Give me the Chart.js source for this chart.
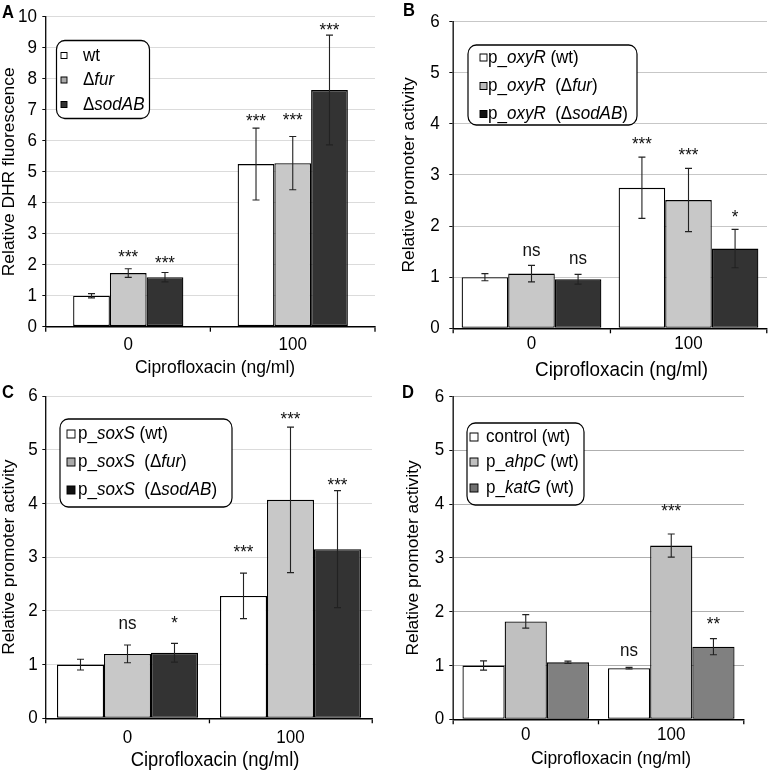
<!DOCTYPE html>
<html><head><meta charset="utf-8">
<script src="https://cdn.jsdelivr.net/npm/chart.js@4/dist/chart.umd.min.js"></script>
<style>
html,body{margin:0;padding:0;background:#fff;}
#wrap{position:relative;width:779px;height:770px;overflow:hidden;background:#fff;}
#wrap canvas{position:absolute;}
</style></head><body><div id="wrap"></div>
<script>
// ---------- shared ----------
const categories = ['0', '100'];
const xTitle = 'Ciprofloxacin (ng/ml)';

// ---------- Panel A ----------
const aYTitle = 'Relative DHR fluorescence';
const aNames = ['wt', 'Δfur', 'ΔsodAB'];
const aLegend = [[['wt', 0]], [['Δ', 0], ['fur', 1]], [['Δ', 0], ['sodAB', 1]]];
const aWt = [1.00, 5.25];
const aFur = [1.73, 5.28];
const aSod = [1.60, 7.64];
const aWtErr = [0.07, 1.16];
const aFurErr = [0.14, 0.86];
const aSodErr = [0.15, 1.77];
const aWtSig = ['', '***'];
const aFurSig = ['***', '***'];
const aSodSig = ['***', '***'];
const aWtSigAt = [null, 6.80];
const aFurSigAt = [2.40, 6.83];
const aSodSigAt = [2.21, 9.74];

// ---------- Panel B ----------
const bYTitle = 'Relative promoter activity';
const bNames = ['p_oxyR (wt)', 'p_oxyR (Δfur)', 'p_oxyR (ΔsodAB)'];
const bLegend = [
  [['p_', 0], ['oxyR', 1], [' (wt)', 0]],
  [['p_', 0], ['oxyR', 1], ['  (Δ', 0], ['fur', 1], [')', 0]],
  [['p_', 0], ['oxyR', 1], ['  (Δ', 0], ['sodAB', 1], [')', 0]]
];
const bWt = [1.00, 2.75];
const bFur = [1.07, 2.51];
const bSod = [0.96, 1.56];
const bWtErr = [0.07, 0.60];
const bFurErr = [0.16, 0.62];
const bSodErr = [0.095, 0.375];
const bWtSig = ['', '***'];
const bFurSig = ['ns', '***'];
const bSodSig = ['ns', '*'];
const bWtSigAt = [null, 3.69];
const bFurSigAt = [1.51, 3.48];
const bSodSigAt = [1.35, 2.27];

// ---------- Panel C ----------
const cYTitle = 'Relative promoter activity';
const cNames = ['p_soxS (wt)', 'p_soxS (Δfur)', 'p_soxS (ΔsodAB)'];
const cLegend = [
  [['p_', 0], ['soxS', 1], [' (wt)', 0]],
  [['p_', 0], ['soxS', 1], ['  (Δ', 0], ['fur', 1], [')', 0]],
  [['p_', 0], ['soxS', 1], ['  (Δ', 0], ['sodAB', 1], [')', 0]]
];
const cWt = [1.00, 2.28];
const cFur = [1.20, 4.07];
const cSod = [1.22, 3.15];
const cWtErr = [0.10, 0.425];
const cFurErr = [0.165, 1.355];
const cSodErr = [0.175, 1.09];
const cWtSig = ['', '***'];
const cFurSig = ['ns', '***'];
const cSodSig = ['*', '***'];
const cWtSigAt = [null, 3.19];
const cFurSigAt = [1.75, 5.67];
const cSodSigAt = [1.87, 4.44];

// ---------- Panel D ----------
const dYTitle = 'Relative promoter activity';
const dNames = ['control (wt)', 'p_ahpC (wt)', 'p_katG (wt)'];
const dLegend = [
  [['control (wt)', 0]],
  [['p_', 0], ['ahpC', 1], [' (wt)', 0]],
  [['p_', 0], ['katG', 1], [' (wt)', 0]]
];
const dCtrl = [1.00, 0.95];
const dAhp = [1.82, 3.23];
const dKat = [1.06, 1.35];
const dCtrlErr = [0.085, 0.015];
const dAhpErr = [0.125, 0.215];
const dKatErr = [0.02, 0.15];
const dCtrlSig = ['', 'ns'];
const dAhpSig = ['', '***'];
const dKatSig = ['', '**'];
const dCtrlSigAt = [null, 1.27];
const dAhpSigAt = [null, 3.97];
const dKatSigAt = [null, 1.86];

// ---------- drawing ----------
const FONT = '"Liberation Sans", Arial, Helvetica, sans-serif';
const FS = 18.5;      // ticks, legend, significance marks
const YFS = 17.4;     // y-axis titles
const SX = 0.92;      // horizontal compression of the original figure
const wrap = document.getElementById('wrap');

function makeOverlay(p, state) {
  return {
    id: 'overlay_' + p.letter,
    beforeDraw(chart) {
      chart.ctx.setTransform(state.sx, 0, 0, 1, 0, 0);
    },
    afterDatasetsDraw(chart) {
      const ctx = chart.ctx;
      const ys = chart.scales.y;
      const cap = 3.5 / p.sx;
      ctx.save();
      p.series.forEach((s, i) => {
        const meta = chart.getDatasetMeta(i);
        meta.data.forEach((bar, j) => {
          const v = s.values[j], e = s.err[j];
          const yt = ys.getPixelForValue(v + e), yb = ys.getPixelForValue(v - e);
          ctx.strokeStyle = '#222';
          ctx.lineWidth = 1.2;
          ctx.beginPath();
          ctx.moveTo(bar.x, yt); ctx.lineTo(bar.x, yb);
          ctx.moveTo(bar.x - cap, yt); ctx.lineTo(bar.x + cap, yt);
          ctx.moveTo(bar.x - cap, yb); ctx.lineTo(bar.x + cap, yb);
          ctx.stroke();
        });
      });
      ctx.fillStyle = '#111';
      ctx.font = FS + 'px ' + FONT;
      ctx.textAlign = 'center';
      ctx.textBaseline = 'alphabetic';
      p.series.forEach((s, i) => {
        const meta = chart.getDatasetMeta(i);
        meta.data.forEach((bar, j) => {
          const t = s.sig[j];
          if (!t) return;
          const yc = ys.getPixelForValue(s.sigAt[j]);
          const base = t[0] === '*' ? yc + 0.58 * FS : yc + 0.26 * FS;
          ctx.fillText(t, bar.x, base);
        });
      });
      ctx.restore();
    },
    afterDraw(chart) {
      const ctx = chart.ctx;
      const L = p.legend, k = p.sx;
      const area = chart.chartArea;
      ctx.save();
      // x-axis title (slightly right of the axis centre, as in the original)
      ctx.fillStyle = '#000';
      ctx.font = p.xfs + 'px ' + FONT;
      ctx.textAlign = 'center';
      ctx.textBaseline = 'alphabetic';
      ctx.fillText(xTitle, (area.left + area.right) / 2 + p.xTitleDx / k, p.xTitleY + 0.358 * p.xfs);
      // legend box
      ctx.fillStyle = '#fff';
      ctx.strokeStyle = '#000';
      ctx.lineWidth = 1.3;
      ctx.beginPath();
      ctx.roundRect(L.x / k, L.y, L.w / k, L.h, 9);
      ctx.fill(); ctx.stroke();
      p.series.forEach((s, i) => {
        const ry = L.rows[i];
        ctx.fillStyle = L.sw[i];
        ctx.fillRect(L.swX / k, ry - L.swS / 2, L.swS / k, L.swS);
        ctx.lineWidth = 1;
        ctx.strokeStyle = '#000';
        ctx.strokeRect(L.swX / k, ry - L.swS / 2, L.swS / k, L.swS);
        let x = L.textX / k;
        ctx.fillStyle = '#000';
        ctx.textBaseline = 'middle';
        ctx.textAlign = 'left';
        s.legend.forEach(seg => {
          ctx.font = (seg[1] ? 'italic ' : '') + FS + 'px ' + FONT;
          ctx.fillText(seg[0], x, ry);
          x += ctx.measureText(seg[0]).width;
        });
      });
      ctx.font = 'bold 18px ' + FONT;
      ctx.fillStyle = '#000';
      ctx.textBaseline = 'middle';
      ctx.textAlign = 'left';
      ctx.fillText(p.letter, p.letterPos[0] / k, p.letterPos[1]);
      ctx.restore();
    }
  };
}

function makePanel(p) {
  const Wl = Math.round(p.w / SX);
  p.sx = p.w / Wl;
  const k = p.sx;
  const state = { sx: 1 };
  const cv = document.createElement('canvas');
  cv.width = Wl; cv.height = p.h;
  cv.style.left = p.x + 'px'; cv.style.top = p.y + 'px';
  wrap.appendChild(cv);
  const datasets = p.series.map((s, i) => ({
    label: s.name,
    data: s.values,
    backgroundColor: p.colors[i],
    borderColor: '#000',
    borderWidth: 1.4,
    borderSkipped: false
  }));
  const chart = new Chart(cv, {
    type: 'bar',
    data: { labels: categories, datasets: datasets },
    options: {
      responsive: false,
      animation: false,
      devicePixelRatio: 1,
      events: [],
      layout: { padding: { left: 0, top: p.area.top, right: (p.w - p.area.right) / k, bottom: 0 } },
      datasets: { bar: { categoryPercentage: p.catPct, barPercentage: 1 } },
      plugins: { legend: { display: false }, tooltip: { enabled: false } },
      scales: {
        x: {
          grid: { offset: true, drawOnChartArea: false, drawTicks: true, tickLength: 5, color: '#000', lineWidth: 1.4 },
          border: { color: '#000', width: 1.4 },
          ticks: { color: '#000', font: { family: FONT, size: FS }, padding: p.xPad },
          title: { display: false, text: xTitle },
          afterFit: s => { s.height = p.h - p.area.bottom; }
        },
        y: {
          min: 0, max: p.ymax,
          ticks: { stepSize: 1, color: '#000', font: { family: FONT, size: FS }, padding: p.yPad },
          grid: { color: p.gridColor, lineWidth: 1, tickColor: '#000', tickLength: 4, drawTicks: true },
          border: { color: '#000', width: 1.4 },
          title: { display: true, text: p.yTitle, color: '#000', font: { family: FONT, size: YFS }, padding: { top: p.yTitlePad, bottom: 0 } },
          afterFit: s => { s.width = p.area.left / k; }
        }
      }
    },
    plugins: [makeOverlay(p, state)]
  });
  // redraw into a bitmap of the real width, compressed horizontally
  cv.width = p.w;
  cv.style.width = p.w + 'px';
  cv.style.height = p.h + 'px';
  state.sx = k;
  chart.draw();
}

makePanel({
  letter: 'A', letterPos: [2, 13],
  x: 0, y: 0, w: 390, h: 380,
  area: { left: 46, right: 375, top: 10.7, bottom: 326.7 },
  catPct: 0.67, ymax: 10, yTitle: aYTitle, xfs: 19, xTitleDx: 4.5, xTitleY: 366,
  xPad: 2.5, yPad: 5.8, yTitlePad: 0,
  gridColor: '#d9d9d9',
  colors: ['#ffffff', '#c8c8c8', '#333333'],
  legend: { x: 56.5, y: 40.5, w: 93, h: 78, rows: [55.5, 80, 104.5], swX: 61, swS: 6, textX: 83,
            sw: ['#ffffff', '#aaaaaa', '#333333'] },
  series: [
    { name: aNames[0], legend: aLegend[0], values: aWt, err: aWtErr, sig: aWtSig, sigAt: aWtSigAt },
    { name: aNames[1], legend: aLegend[1], values: aFur, err: aFurErr, sig: aFurSig, sigAt: aFurSigAt },
    { name: aNames[2], legend: aLegend[2], values: aSod, err: aSodErr, sig: aSodSig, sigAt: aSodSigAt }
  ]
});

makePanel({
  letter: 'B', letterPos: [13, 11],
  x: 390, y: 0, w: 389, h: 380,
  area: { left: 63, right: 377, top: 10.7, bottom: 328.3 },
  catPct: 0.89, ymax: 6, yTitle: bYTitle, xfs: 20.5, xTitleDx: 11.5, xTitleY: 369,
  xPad: 0, yPad: 10.5, yTitlePad: 11.3,
  gridColor: '#c4c4c4',
  colors: ['#ffffff', '#c8c8c8', '#333333'],
  legend: { x: 78, y: 45, w: 169, h: 80, rows: [57.5, 86, 114], swX: 90, swS: 7, textX: 98,
            sw: ['#ffffff', '#bbbbbb', '#111111'] },
  series: [
    { name: bNames[0], legend: bLegend[0], values: bWt, err: bWtErr, sig: bWtSig, sigAt: bWtSigAt },
    { name: bNames[1], legend: bLegend[1], values: bFur, err: bFurErr, sig: bFurSig, sigAt: bFurSigAt },
    { name: bNames[2], legend: bLegend[2], values: bSod, err: bSodErr, sig: bSodSig, sigAt: bSodSigAt }
  ]
});

makePanel({
  letter: 'C', letterPos: [2, 13],
  x: 0, y: 380, w: 390, h: 390,
  area: { left: 46, right: 372, top: 12.7, bottom: 338.3 },
  catPct: 0.865, ymax: 6, yTitle: cYTitle, xfs: 20, xTitleDx: 6, xTitleY: 379,
  xPad: 3.9, yPad: 5.1, yTitlePad: 0.5,
  gridColor: '#d9d9d9',
  colors: ['#ffffff', '#c8c8c8', '#333333'],
  legend: { x: 60, y: 39, w: 172, h: 88, rows: [54, 82, 110], swX: 67, swS: 8, textX: 78,
            sw: ['#ffffff', '#aaaaaa', '#111111'] },
  series: [
    { name: cNames[0], legend: cLegend[0], values: cWt, err: cWtErr, sig: cWtSig, sigAt: cWtSigAt },
    { name: cNames[1], legend: cLegend[1], values: cFur, err: cFurErr, sig: cFurSig, sigAt: cFurSigAt },
    { name: cNames[2], legend: cLegend[2], values: cSod, err: cSodErr, sig: cSodSig, sigAt: cSodSigAt }
  ]
});

makePanel({
  letter: 'D', letterPos: [12, 13],
  x: 390, y: 380, w: 389, h: 390,
  area: { left: 63, right: 354, top: 12.7, bottom: 339.3 },
  catPct: 0.87, ymax: 6, yTitle: dYTitle, xfs: 19, xTitleDx: 12.5, xTitleY: 377.5,
  xPad: 0, yPad: 5.5, yTitlePad: 15,
  gridColor: '#ababab',
  colors: ['#ffffff', '#c0c0c0', '#808080'],
  legend: { x: 77, y: 43, w: 117, h: 82, rows: [57, 82, 108], swX: 80, swS: 8, textX: 96,
            sw: ['#ffffff', '#c0c0c0', '#707070'] },
  series: [
    { name: dNames[0], legend: dLegend[0], values: dCtrl, err: dCtrlErr, sig: dCtrlSig, sigAt: dCtrlSigAt },
    { name: dNames[1], legend: dLegend[1], values: dAhp, err: dAhpErr, sig: dAhpSig, sigAt: dAhpSigAt },
    { name: dNames[2], legend: dLegend[2], values: dKat, err: dKatErr, sig: dKatSig, sigAt: dKatSigAt }
  ]
});
</script>
</body></html>
